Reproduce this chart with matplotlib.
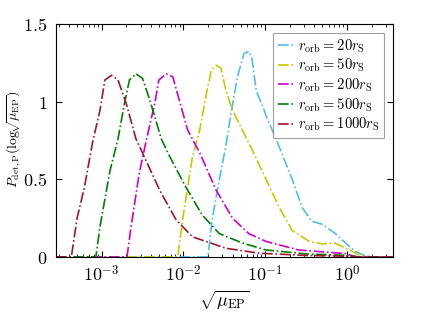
import numpy as np
import matplotlib
matplotlib.use("Agg")
import matplotlib.pyplot as plt
from matplotlib.ticker import LogLocator, NullFormatter

plt.rcParams['mathtext.fontset'] = 'cm'
plt.rcParams['font.family'] = 'serif'
plt.rcParams['font.serif'] = ['DejaVu Serif']

# log10(sqrt(mu_EP)) and P values
log_x_20 = [-3.56, -1.70, -1.65, -1.56, -1.48, -1.42, -1.34, -1.26, -1.20, -1.16, -1.11, -1.03,
            -0.99, -0.86, -0.67, -0.55, -0.43, -0.30, -0.14, -0.02, 0.11, 0.23, 0.35, 0.56]
p_20 = [0, 0, 0.24, 0.50, 0.72, 0.92, 1.16, 1.31, 1.325, 1.27, 1.07, 0.97,
        0.91, 0.75, 0.50, 0.32, 0.23, 0.21, 0.15, 0.09, 0.034, 0.006, 0, 0]

log_x_50 = [-3.56, -2.07, -2.01, -1.89, -1.80, -1.72, -1.66, -1.60, -1.54, -1.48, -1.40, -1.32,
            -1.16, -0.99, -0.83, -0.67, -0.46, -0.30, -0.16, -0.02, 0.15, 0.30, 0.56]
p_50 = [0, 0, 0.24, 0.645, 0.82, 1.05, 1.20, 1.235, 1.215, 1.07, 0.945, 0.86,
        0.69, 0.50, 0.32, 0.17, 0.10, 0.084, 0.092, 0.058, 0.013, 0, 0]

log_x_200 = [-3.56, -2.69, -2.64, -2.54, -2.45, -2.35, -2.30, -2.21, -2.13, -2.05, -1.95, -1.80,
             -1.60, -1.40, -1.20, -0.99, -0.59, -0.18, -0.02, 0.12, 0.56]
p_200 = [0, 0, 0.195, 0.54, 0.76, 0.99, 1.14, 1.18, 1.16, 1.01, 0.82, 0.67,
         0.43, 0.25, 0.15, 0.10, 0.045, 0.028, 0.022, 0, 0]

log_x_500 = [-3.56, -3.07, -3.02, -2.90, -2.80, -2.72, -2.66, -2.58, -2.50, -2.41, -2.27, -2.17,
             -1.97, -1.77, -1.56, -1.28, -0.99, -0.5, 0.0, 0.15, 0.56]
p_500 = [0, 0, 0.195, 0.55, 0.76, 0.99, 1.14, 1.18, 1.15, 1.01, 0.76, 0.65,
         0.45, 0.27, 0.15, 0.09, 0.045, 0.02, 0.01, 0, 0]

log_x_1000 = [-3.56, -3.37, -3.30, -3.21, -3.11, -3.02, -2.96, -2.88, -2.80, -2.70, -2.58, -2.50,
              -2.29, -2.09, -1.89, -1.48, -1.07, -0.5, 0.0, 0.15, 0.56]
p_1000 = [0, 0, 0.25, 0.45, 0.74, 0.945, 1.14, 1.17, 1.14, 0.99, 0.76, 0.67,
          0.43, 0.24, 0.13, 0.056, 0.024, 0.01, 0.005, 0, 0]

labels = [r'$r_{\rm orb}=20r_{\rm S}$', r'$r_{\rm orb}=50r_{\rm S}$', r'$r_{\rm orb}=200r_{\rm S}$',
          r'$r_{\rm orb}=500r_{\rm S}$', r'$r_{\rm orb}=1000r_{\rm S}$']
colors = ['#4DBEEE', '#C8C800', '#CC00CC', '#008000', '#A2142F']

fig = plt.figure(figsize=(4.36, 3.13), dpi=100)
ax = fig.add_axes([0.128, 0.179, 0.773, 0.744])

series = [(log_x_20, p_20), (log_x_50, p_50), (log_x_200, p_200),
          (log_x_500, p_500), (log_x_1000, p_1000)]
for (lx, p), lab, c in zip(series, labels, colors):
    ax.plot(10 ** np.array(lx), p, linestyle='-.', color=c, lw=1.2, label=lab)

ax.set_xscale('log')
ax.set_xlim(10 ** -3.56, 10 ** 0.56)
ax.set_ylim(0, 1.5)
ax.set_xticks([1e-3, 1e-2, 1e-1, 1e0])
ax.set_xticklabels([r'$10^{-3}$', r'$10^{-2}$', r'$10^{-1}$', r'$10^{0}$'])
ax.xaxis.set_minor_locator(LogLocator(base=10, subs=np.arange(2, 10), numticks=20))
ax.xaxis.set_minor_formatter(NullFormatter())
ax.set_yticks([0, 0.5, 1, 1.5])
ax.set_yticklabels([r'$0$', r'$0.5$', r'$1$', r'$1.5$'])
ax.tick_params(which='both', direction='in', top=True, right=True, labelsize=13, pad=6)
ax.tick_params(which='major', length=4)
ax.tick_params(which='minor', length=2)

ax.set_xlabel(r'$\sqrt{\mu_{\rm EP}}$', fontsize=13, labelpad=2)
ax.set_ylabel(r'$P_{\rm det,P}({\rm log}\!\sqrt{\mu_{\rm EP}})$', fontsize=10)
ax.yaxis.label.set_va('center')
ax.yaxis.set_label_coords(-0.125, 0.505)

leg = ax.legend(loc='upper right', fontsize=10.5, handlelength=1.2, handletextpad=0.2,
                borderpad=0.3, labelspacing=0.15, fancybox=False, borderaxespad=0.6)
leg.get_frame().set_edgecolor('#888888')
leg.get_frame().set_linewidth(0.8)

fig.savefig('out.png', dpi=100)
